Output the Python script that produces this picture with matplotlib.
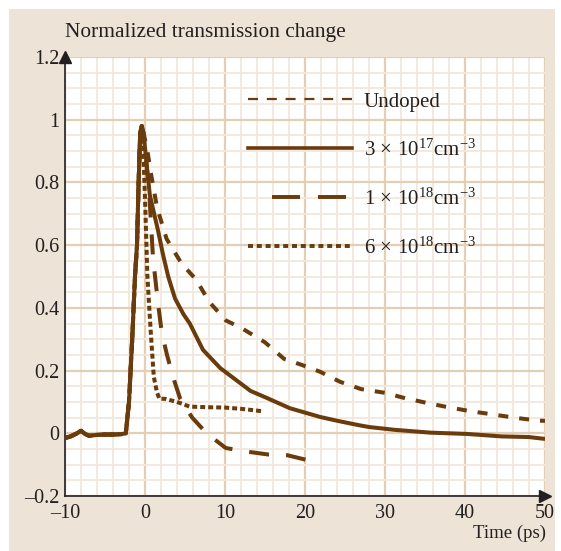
import matplotlib
matplotlib.use('Agg')
import matplotlib.pyplot as plt
from matplotlib.lines import Line2D
import numpy as np

plt.rcParams['font.family'] = ['Liberation Serif', 'DejaVu Serif']
plt.rcParams['mathtext.fontset'] = 'custom'
plt.rcParams['mathtext.rm'] = 'Liberation Serif'
plt.rcParams['mathtext.it'] = 'Liberation Serif:italic'
plt.rcParams['lines.scale_dashes'] = False

brown = '#6a3b0c'
panel = '#ede3d6'
major_c = '#e2cfb6'
minor_c = '#f1e7dc'
ink = '#231f20'

# shared baseline and rise (all four traces overlap here)
t_rise = [-10, -9.3, -8.5, -8, -7.5, -7, -6, -5, -4, -3, -2.4, -2.0, -1.6, -1.25, -1.0, -0.8, -0.6, -0.4]
y_rise = [-0.015, -0.01, 0.0, 0.008, -0.002, -0.008, -0.005, -0.004, -0.004, -0.003, 0.0, 0.1, 0.3, 0.5, 0.6, 0.8, 0.96, 0.98]

t_undoped = [-0.2, 0.3, 0.8, 1.5, 2.7, 4.6, 6.4, 8.0, 10.1, 12.1, 15, 17.4, 19.6, 21.9, 24.4, 27, 30, 32.5,
             35.2, 38.1, 40.8, 43.5, 46.4, 49.3, 50]
y_undoped = [0.96, 0.9, 0.82, 0.72, 0.62, 0.54, 0.49, 0.42, 0.36, 0.335, 0.29, 0.237, 0.218, 0.196, 0.164,
             0.141, 0.129, 0.112, 0.097, 0.082, 0.07, 0.06, 0.049, 0.04, 0.04]

t_3e17 = [-0.2, 0.6, 1.6, 2.25, 2.9, 3.75, 4.8, 5.6, 7.25, 9.4, 11.9, 13.2, 15.2, 18.1, 20, 21.9, 24, 26.7,
          28, 31.2, 35.7, 40.2, 44.6, 48, 50]
y_3e17 = [0.96, 0.76, 0.65, 0.57, 0.5, 0.43, 0.38, 0.35, 0.266, 0.208, 0.16, 0.135, 0.113, 0.08, 0.066,
          0.052, 0.04, 0.026, 0.02, 0.011, 0.002, -0.002, -0.01, -0.012, -0.018]

t_1e18 = [-0.2, 0.5, 1.0, 1.6, 2.1, 2.75, 3.5, 4.4, 5.9, 7.7, 10.1, 12.6, 15.5, 17.8, 20.2]
y_1e18 = [0.95, 0.78, 0.56, 0.42, 0.32, 0.25, 0.18, 0.11, 0.05, 0.0, -0.047, -0.058, -0.068, -0.07, -0.085]

t_6e18 = [-0.3, 0.0, 0.3, 0.7, 1.1, 1.5, 1.8, 2.5, 4, 5.6, 8, 10, 12, 14.8]
y_6e18 = [0.96, 0.75, 0.5, 0.33, 0.18, 0.13, 0.11, 0.11, 0.1, 0.085, 0.083, 0.082, 0.078, 0.07]

labels = ['Undoped', r'$3\,\times\,10^{17}\mathrm{cm}^{-3}$', r'$1\,\times\,10^{18}\mathrm{cm}^{-3}$',
          r'$6\,\times\,10^{18}\mathrm{cm}^{-3}$']
xticks = [-10, 0, 10, 20, 30, 40, 50]
yticks = [-0.2, 0, 0.2, 0.4, 0.6, 0.8, 1, 1.2]
ytick_labels = ['\u20130.2', '0', '0.2', '0.4', '0.6', '0.8', '1', '1.2']
xtick_labels = ['\u201310', '0', '10', '20', '30', '40', '50']

px = 0.72  # points per pixel at dpi 100
styles = [(0, (10 * px, 11 * px)), '-', (0, (20 * px, 17 * px)), (0, (5 * px, 3 * px))]

fig = plt.figure(figsize=(5.61, 5.51), dpi=100)
fig.patch.set_facecolor('white')
fig.patches.append(plt.Rectangle((9 / 561, 0), 546 / 561, 542 / 551, transform=fig.transFigure,
                                 facecolor=panel, edgecolor='none', zorder=-5))
ax = fig.add_axes([65 / 561, 1 - 496 / 551, 480 / 561, 439 / 551])
ax.set_zorder(2)
ax.set_facecolor('white')

series = [(t_undoped, y_undoped), (t_3e17, y_3e17), (t_1e18, y_1e18), (t_6e18, y_6e18)]
for (t, y), ls in zip(series, styles):
    ax.plot(t_rise + t, y_rise + y, color=brown, lw=2.9, ls=ls, solid_capstyle='butt',
            dash_capstyle='butt', zorder=3)

ax.set_xlim(-10, 50)
ax.set_ylim(-0.2, 1.2)
ax.set_xticks(xticks)
ax.set_xticklabels(xtick_labels)
ax.set_yticks(yticks)
ax.set_yticklabels(ytick_labels)
ax.set_xticks(np.arange(-10, 51, 2), minor=True)
ax.set_yticks(np.arange(-0.2, 1.21, 0.05), minor=True)
ax.grid(which='minor', color=minor_c, lw=1.3, zorder=0)
ax.grid(which='major', color=major_c, lw=1.6, zorder=1)
ax.set_axisbelow(True)
ax.tick_params(which='both', length=0, labelsize=14.5, colors=ink)
ax.tick_params(axis='x', pad=6)
ax.tick_params(axis='y', pad=4)
for s in ['top', 'right']:
    ax.spines[s].set_visible(False)
for s in ['left', 'bottom']:
    ax.spines[s].set_color(ink)
    ax.spines[s].set_linewidth(1.2)
ax.plot([-10], [1.2], marker='^', ms=8, color=ink, clip_on=False, zorder=5)
ax.plot([50], [-0.2], marker='>', ms=8, color=ink, clip_on=False, zorder=5)

handles = [
    Line2D([], [], color=brown, lw=1.6, ls=(0, (10 * px, 8.8 * px))),
    Line2D([], [], color=brown, lw=2.6, ls='-'),
    Line2D([], [], color=brown, lw=2.8, ls=(80 * px, (28 * px, 18 * px, 28 * px, 30 * px))),
    Line2D([], [], color=brown, lw=2.8, ls=(0, (5 * px, 3.8 * px))),
]
ax.legend(handles, labels, loc='upper left', bbox_to_anchor=(183 / 480, 1 - 35 / 439), frameon=False,
          fontsize=15, handlelength=75 / 15, handletextpad=0.55, labelspacing=1.33, borderpad=0,
          borderaxespad=0, labelcolor=ink)

fig.text(65 / 561, 1 - 33 / 551, 'Normalized transmission change', fontsize=15.4, color=ink,
         ha='left', va='center')
fig.text(546 / 561, 1 - 533 / 551, 'Time (ps)', fontsize=13.5, color=ink, ha='right', va='center')

fig.savefig('out.png', dpi=100, facecolor='white')
